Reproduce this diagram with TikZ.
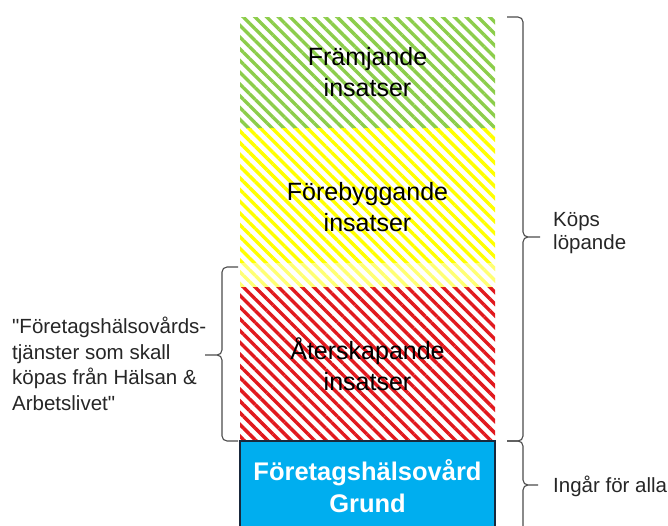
\documentclass[tikz,border=0pt]{standalone}
\usepackage{fontspec}
\setmainfont{Liberation Sans}[Ligatures=TeXOff]
\usetikzlibrary{positioning,patterns.meta}
\definecolor{hgreen}{RGB}{140,205,75}
\definecolor{hyellow}{RGB}{255,255,0}
\definecolor{hred}{RGB}{225,25,30}
\definecolor{hblue}{RGB}{0,174,239}
\definecolor{hframe}{RGB}{25,40,60}
\tikzset{
  band/.style={minimum width=255pt, inner sep=0pt, outer sep=0pt, align=center,
    font=\fontsize{25}{31}\selectfont},
  hatch/.style={pattern={Lines[angle=-45,distance=8.3pt,line width=3.4pt]}, pattern color=#1},
  brc/.style={draw=black!70, line width=1.1pt, rounded corners=5pt},
  side/.style={inner sep=0pt, align=left, text=black!85}
}
\begin{document}
\begin{tikzpicture}[x=1pt,y=-1pt]
\useasboundingbox (0,0) rectangle (668,525);
\node[band, hatch=hgreen, minimum height=111pt] (green) at (367.5,72.5) {Främjande\\insatser};
\node[band, hatch=hyellow, minimum height=159pt, below=0pt of green] (yellow) {Förebyggande\\insatser};
\fill[white, opacity=0.45] (yellow.south west) rectangle ([yshift=24pt]yellow.south east);
\node[band, hatch=hred, minimum height=154pt, below=0pt of yellow] (red) {Återskapande\\insatser};
\node[band, fill=hblue, draw=hframe, line width=2pt, minimum height=90pt, below=0pt of red,
  text=white, font=\fontsize{25.5}{32}\selectfont\bfseries] (grund) {Företagshälsovård\\Grund};

\coordinate (ktip) at (540,237);
\coordinate (itip) at (538,485);
\coordinate (ltip) at (205,355);
\node[side, anchor=west, font=\fontsize{20.5}{23}\selectfont] (kops) at (553,233) {Köps\\löpande};
\node[side, anchor=west, font=\fontsize{20.5}{23}\selectfont] (ingar) at (553,486) {Ingår för alla};
\node[side, anchor=west, font=\fontsize{20.5}{25.5}\selectfont] (hals) at (12,364)
  {"Företagshälsovårds-\\tjänster som skall\\köpas från Hälsan \&\\Arbetslivet"};

\draw[brc] ([xshift=12pt]green.north east) -| ([xshift=-17pt]ktip) -- (ktip)
  (ktip) -- ([xshift=-17pt]ktip) |- ([xshift=12pt]red.south east);
\draw[brc] ([xshift=12pt]grund.north east) -| ([xshift=-15pt]itip) -- (itip)
  (itip) -- ([xshift=-15pt]itip) |- ([xshift=12pt]grund.south east);
\draw[brc] ([xshift=-2pt,yshift=20pt]yellow.south west) -| ([xshift=17pt]ltip) -- (ltip)
  (ltip) -- ([xshift=17pt]ltip) |- ([xshift=-2pt]red.south west);
\end{tikzpicture}
\end{document}
